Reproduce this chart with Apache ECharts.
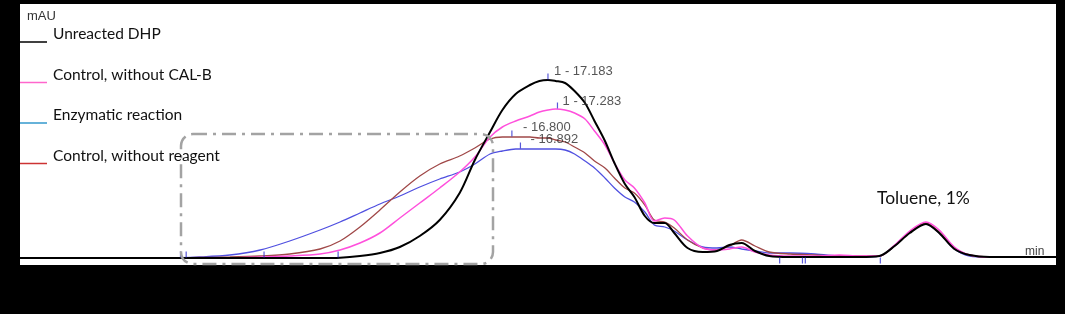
<!DOCTYPE html>
<html>
<head>
<meta charset="utf-8">
<script src="https://cdn.jsdelivr.net/npm/echarts@6/dist/echarts.min.js"></script>
<style>
  html, body { margin: 0; padding: 0; background: #000; }
  #chart { width: 1065px; height: 314px; }
</style>
</head>
<body>
<div id="chart"></div>
<script>
// retention time, min
const times = [11.63, 12.68, 13.21, 13.52, 13.84, 14.16, 14.47, 14.79, 15.00, 15.21,
  15.42, 15.63, 15.84, 16.05, 16.26, 16.42, 16.58, 16.71, 16.85, 17.00,
  17.10, 17.19, 17.27, 17.37, 17.47, 17.58, 17.68, 17.79, 17.89, 18.00,
  18.10, 18.21, 18.31, 18.42, 18.52, 18.66, 18.82, 18.97, 19.10, 19.23,
  19.37, 19.52, 19.74, 20.00, 20.26, 20.47, 20.68, 20.84, 21.00, 21.17,
  21.31, 21.47, 21.63, 21.84, 22.54];

// absorbance, mAU
const dhp = [0, 0, 0, 0, 0, 0, 0, 0, 0.3, 2,
  5, 11, 22, 38, 65, 98, 126, 148, 164, 173,
  177, 178, 177, 175, 167, 155, 137, 117, 95, 74,
  61, 42, 35, 35, 25, 10, 6, 7, 13, 15,
  7, 2, 1, 1, 1, 1, 2, 12, 25, 34,
  25, 9, 3, 1, 1];

const controlCalB = [0, 0, 0, 0, 0, 1, 2, 4, 8, 15,
  25, 40, 55, 70, 86, 101, 121, 131, 137, 142,
  146, 148, 149, 148, 145, 139, 127, 113, 95, 78,
  70, 55, 37, 40, 38, 22, 10, 8, 9, 11,
  6, 3, 2, 2, 3, 2, 2, 13, 27, 36,
  28, 11, 3, 1, 1];

const enzymatic = [0, 0, 0, 1, 3, 8, 17, 28, 36, 45,
  54, 62, 71, 79, 86, 94, 104, 107, 109, 109,
  109, 109, 109, 108, 104, 97, 90, 80, 70, 61,
  56, 46, 33, 31, 27, 18, 11, 10, 11, 9,
  7, 5, 5, 4, 2, 1, 2, 12, 26, 34,
  25, 9, 2, 1, 1];

const controlReagent = [0, 0, 0, 0.5, 1, 2, 4, 9, 17, 31,
  48, 66, 82, 94, 102, 110, 119, 121, 121, 121,
  120, 120, 118, 116, 111, 105, 97, 90, 80, 70,
  65, 53, 38, 36, 30, 18, 10, 8, 12, 18,
  12, 6, 4, 3, 2, 2, 2, 12, 26, 35,
  26, 10, 3, 1, 1];

// integration events
const peakTimes = [17.19, 17.29, 16.81, 16.90];
const peakHeights = [181.5, 152.5, 124.5, 112.5];
const peakLabels = ['1 - 17.183', '1 - 17.283', '- 16.800', '- 16.892'];
const eventTimes = [13.32, 13.38, 14.20, 14.98, 19.63, 19.87, 19.90, 20.69];
const eventHeights = [3.5, 3.5, 3.5, 3.5, -2.5, -2.5, -2.5, -2.5];

const seriesNames = ['Unreacted DHP', 'Control, without CAL-B', 'Enzymatic reaction', 'Control, without reagent'];

let chart = echarts.init(document.getElementById('chart'));

function trace(name, values, color, width) {
    return {
        name: name,
        type: 'line',
        smooth: 0.3,
        symbol: 'none',
        lineStyle: { color: color, width: width },
        data: times.map((t, i) => [t, values[i]])
    };
}

const labelShift = [[5.5, -5.5], [4.5, -4.5], [10.5, -6.5], [9.5, -6.5]];
const legendColors = ['#000000', '#ff66cc', '#3399cc', '#cc3333'];

let graphics = [
    { type: 'text', left: 27, top: 10, z: 10,
      style: { text: 'mAU', font: '13px "Liberation Sans"', fill: '#333' } },
    { type: 'text', left: 1025, top: 246, z: 10,
      style: { text: 'min', font: '12px "Liberation Sans"', fill: '#444' } },
    { type: 'text', left: 877, top: 189, z: 10,
      style: { text: 'Toluene, 1%', font: '17.5px Lato', fill: '#111' } },
    { type: 'rect', z: 10, shape: { x: 181, y: 134, width: 312, height: 130, r: 12 },
      style: { fill: 'none', stroke: '#a3a3a3', lineWidth: 2.5, lineDash: [14, 6, 3, 6] } }
];
seriesNames.forEach((name, i) => {
    let ly = 42 + i * 40.5;
    graphics.push({ type: 'line', z: 10, shape: { x1: 20, y1: ly, x2: 47, y2: ly },
        style: { stroke: legendColors[i], lineWidth: 1.5 } });
    graphics.push({ type: 'text', z: 10, left: 53, top: ly - 16,
        style: { text: name, font: '15.5px Lato', fill: '#111' } });
});

const option = {
    backgroundColor: '#000',
    animation: false,
    grid: { left: 20, right: 9, top: 4, bottom: 49, show: true, backgroundColor: '#fff', borderWidth: 0 },
    xAxis: { type: 'value', min: 11.63, max: 22.54, show: false },
    yAxis: { type: 'value', min: -7, max: 254, show: false },
    graphic: graphics,
    series: [
        trace(seriesNames[2], enzymatic, '#5050e0', 1.3),
        trace(seriesNames[3], controlReagent, '#a04848', 1.3),
        trace(seriesNames[1], controlCalB, '#ff50dc', 1.5),
        trace(seriesNames[0], dhp, '#000', 2),
        {
            type: 'scatter',
            symbol: 'rect',
            symbolSize: [1.2, 6],
            itemStyle: { color: '#3030d0' },
            z: 5,
            data: peakTimes.map((t, i) => ({
                value: [t, peakHeights[i]],
                label: {
                    show: true, position: 'right', distance: labelShift[i][0],
                    offset: [0, labelShift[i][1]], formatter: peakLabels[i],
                    fontFamily: 'Liberation Sans', fontSize: 13, color: '#2a2a2a'
                }
            }))
        },
        {
            type: 'scatter',
            symbol: 'rect',
            symbolSize: [1.2, 6],
            itemStyle: { color: '#3030d0' },
            z: 5,
            data: eventTimes.map((t, i) => [t, eventHeights[i]])
        }
    ]
};
chart.setOption(option);
</script>
</body>
</html>
